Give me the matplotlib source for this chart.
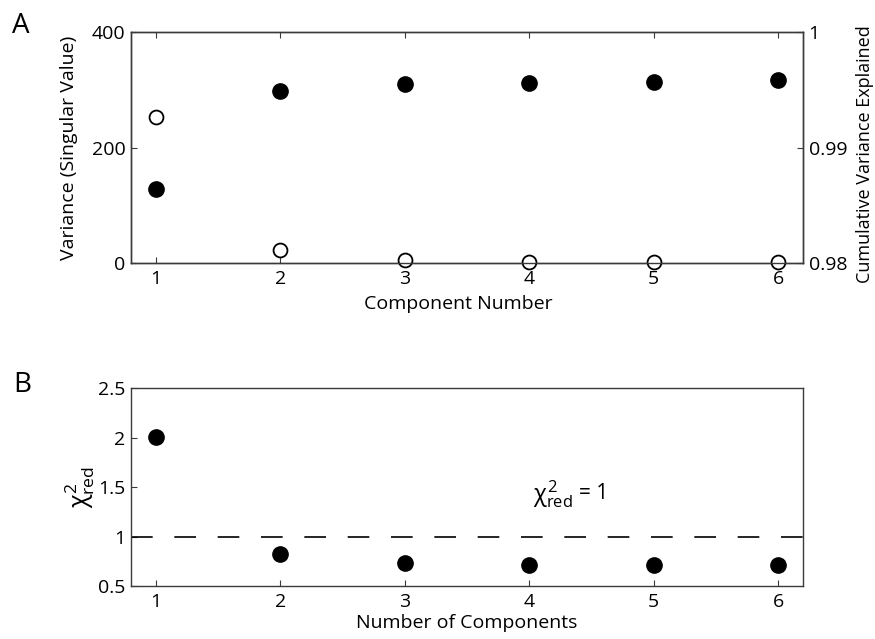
import matplotlib
matplotlib.use("Agg")
import matplotlib.pyplot as plt

plt.rcParams['font.family'] = ['Open Sans', 'DejaVu Sans']
plt.rcParams['mathtext.fontset'] = 'custom'
plt.rcParams['mathtext.rm'] = 'Open Sans'
plt.rcParams['mathtext.it'] = 'Open Sans'

components = [1, 2, 3, 4, 5, 6]
variance = [252, 22, 5, 2, 1, 1]
cumulative = [0.98641, 0.99485, 0.99550, 0.99558, 0.99570, 0.99584]
chi2_red = [2.01, 0.82, 0.73, 0.715, 0.71, 0.71]

FS = 14
SPINE = '#3a3a3a'

fig = plt.figure(figsize=(8.75, 6.39), dpi=100)

# Panel A
axA = fig.add_axes([0.1497, 0.5884, 0.9177 - 0.1497, 0.9499 - 0.5884])
axA.plot(components, variance, 'o', mfc='white', mec='black', mew=1.3, ms=10, zorder=3, clip_on=False)
axA.set_xlim(0.8, 6.2)
axA.set_ylim(0, 400)
axA.set_yticks([0, 200, 400])
axA.set_xticks(components)
axA.set_xlabel('Component Number', fontsize=FS, labelpad=3)
axA.xaxis.set_label_coords(0.487, -0.14)
axA.set_ylabel('Variance (Singular Value)', fontsize=FS, labelpad=10)
axA.tick_params(direction='in', length=4, labelsize=FS, top=True, color=SPINE, pad=5)
axA.tick_params(axis='y', right=False, pad=4)

axA2 = axA.twinx()
axA2.plot(components, cumulative, 'o', color='black', ms=11, zorder=3)
axA2.set_ylim(0.98, 1.0)
axA2.set_yticks([0.98, 0.99, 1.0])
axA2.set_yticklabels(['0.98', '0.99', '1'])
axA2.set_ylabel('Cumulative Variance Explained', fontsize=13, labelpad=10)
axA2.yaxis.set_label_coords(1.079, 0.47)
axA2.tick_params(direction='in', length=4, labelsize=FS, color=SPINE, pad=4)
for ax in (axA, axA2):
    for s in ax.spines.values():
        s.set_color(SPINE)
        s.set_linewidth(1.0)

# Panel B
axB = fig.add_axes([0.1497, 0.0829, 0.9177 - 0.1497, 0.3928 - 0.0829])
axB.plot(components, chi2_red, 'o', color='black', ms=11, zorder=3)
axB.axhline(1, color='black', lw=1.2, ls=(0, (13, 13)))
axB.set_xlim(0.8, 6.2)
axB.set_ylim(0.5, 2.5)
axB.set_yticks([0.5, 1, 1.5, 2, 2.5])
axB.set_yticklabels(['0.5', '1', '1.5', '2', '2.5'])
axB.set_xticks(components)
axB.set_xlabel('Number of Components', fontsize=FS, labelpad=2)
axB.set_ylabel(r'$\chi^2_{\mathrm{red}}$', fontsize=18, labelpad=1)
axB.tick_params(direction='in', length=4, labelsize=FS, color=SPINE, pad=5)
axB.tick_params(axis='y', pad=4)
for s in axB.spines.values():
    s.set_color(SPINE)
    s.set_linewidth(1.0)
axB.text(4.03, 1.35, r'$\chi^2_{\mathrm{red}}$', fontsize=17, ha='left', va='baseline')
axB.text(4.40, 1.38, '= 1', fontsize=FS + 1, ha='left', va='baseline')

fig.text(12 / 875, 1 - 12 / 639, 'A', fontsize=20, ha='left', va='top')
fig.text(13 / 875, 1 - 371 / 639, 'B', fontsize=20, ha='left', va='top')

fig.savefig('out.png', dpi=100)
